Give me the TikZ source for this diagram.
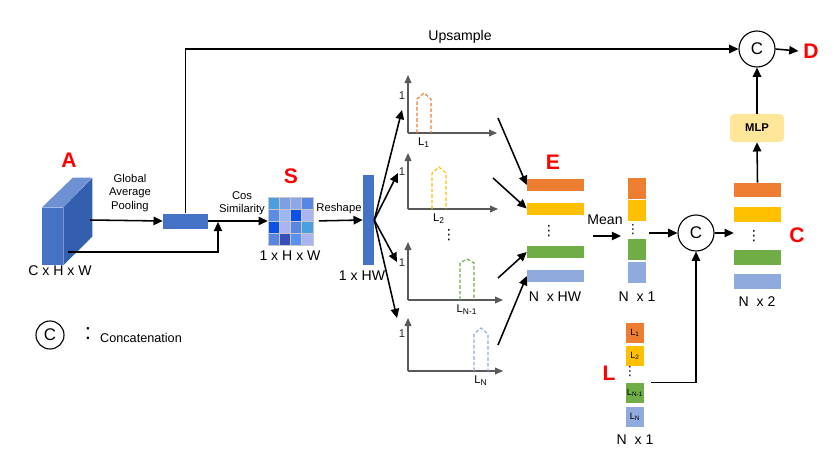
\documentclass[tikz,border=0pt]{standalone}
\usepackage{fontspec}
\setmainfont{Liberation Sans}
\newfontfamily\dotsfont{DejaVu Sans}
\definecolor{featblue}{HTML}{4472C4}
\definecolor{featdark}{HTML}{345EAE}
\definecolor{featlight}{HTML}{6E91D4}
\definecolor{binorange}{HTML}{ED7D31}
\definecolor{binyellow}{HTML}{FFC000}
\definecolor{bingreen}{HTML}{70AD47}
\definecolor{binblue}{HTML}{8FAADC}
\definecolor{mlpfill}{HTML}{FFE699}
\definecolor{axisgray}{HTML}{595959}
\definecolor{tagred}{HTML}{FF0000}
\definecolor{simA}{HTML}{4A9FE0}
\definecolor{simB}{HTML}{7F9FE2}
\definecolor{simC}{HTML}{8EA7E6}
\definecolor{simD}{HTML}{5886E0}
\definecolor{simE}{HTML}{5B8CE8}
\definecolor{simF}{HTML}{9DB8F0}
\definecolor{simG}{HTML}{0B50E8}
\definecolor{simH}{HTML}{A9B4F0}
\definecolor{simI}{HTML}{3A4CB8}
\definecolor{simJ}{HTML}{5A90F0}
\usetikzlibrary{arrows.meta,positioning}
\tikzset{
    flowarrow/.style={
        -{Triangle[length=2.3mm,width=2.1mm]},
        draw=black,
        line width=1.1pt
    },
    axisarrow/.style={
        -{Triangle[length=2mm,width=1.7mm]},
        draw=axisgray,
        line width=0.9pt
    },
    peakline/.style={
        dash pattern=on 2.5pt off 1.5pt,
        line width=0.8pt
    },
    tag/.style={
        text=tagred,
        font=\fontsize{15}{18}\selectfont\bfseries
    },
    dimtext/.style={
        font=\fontsize{10}{12}\selectfont
    },
    steptext/.style={
        font=\fontsize{8}{9.6}\selectfont,
        align=center
    },
    stackdots/.style={
        inner sep=0pt,
        font=\dotsfont\fontsize{10}{10}\selectfont
    },
    concat/.style={
        draw=black,
        circle,
        line width=0.8pt,
        minimum size=0.9cm,
        inner sep=0pt,
        font=\fontsize{12}{14}\selectfont
    },
    featbar/.style={
        minimum width=1.425cm,
        minimum height=0.3cm,
        inner sep=0pt
    },
    meancell/.style={
        minimum width=0.45cm,
        minimum height=0.525cm,
        inner sep=0pt
    },
    catbar/.style={
        minimum width=1.175cm,
        minimum height=0.36cm,
        inner sep=0pt
    },
    labelcell/.style={
        minimum width=0.45cm,
        minimum height=0.5cm,
        inner sep=0pt,
        font=\fontsize{6.5}{8}\selectfont
    }
}

\begin{document}
\begin{tikzpicture}[x=0.025cm,y=0.025cm]
        \path[fill=white] (0,0) rectangle (834,-461);
        \useasboundingbox (0,0) rectangle (834,-461);

        \node[fill=featblue,minimum width=0.525cm,minimum height=1.425cm,inner sep=0pt]
            (cubeA) at (52.5,-236.5) {};
        \fill[featlight] (cubeA.north west) -- ++(31,30) -- ++(19,0) -- (cubeA.north east) -- cycle;
        \fill[featdark] (cubeA.north east) -- ++(29,30) -- ++(0,-59) -- (cubeA.south east) -- cycle;
        \node[tag] (tagA) at (69,-160) {A};
        \node[dimtext] (dimA) at (60,-271) {C x H x W};
        \coordinate (cubeout) at (90,-220);
        \coordinate (cubelow) at (68,-252);

        \node[fill=featblue,minimum width=1.125cm,minimum height=0.375cm,inner sep=0pt]
            (gap) at (185.5,-221) {};
        \node[steptext] (gaptext) at (130,-193) {Global\\Average\\Pooling};
        \coordinate (merge) at (218,-222);

        \node[minimum width=1.125cm,minimum height=1.2cm,inner sep=0pt] (Sgrid) at (290.5,-221) {};
        \foreach \clr [count=\k from 0] in {simA,simB,simC,simD,simE,simF,simG,simH,
                                          simG,simH,simD,simA,simD,simI,simJ,simH}{
            \pgfmathtruncatemacro\cx{mod(\k,4)}
            \pgfmathtruncatemacro\cy{\k/4}
            \filldraw[fill=\clr,draw=gray!45,line width=0.5pt]
                ({268+\cx*11.25},{-197-\cy*12}) rectangle +(11.25,-12);
        }
        \node[tag] (tagS) at (291,-176) {S};
        \node[dimtext] (dimS) at (290,-256) {1 x H x W};
        \node[steptext] (costext) at (242,-203) {Cos\\Similarity};

        \node[fill=featblue,minimum width=0.275cm,minimum height=2.25cm,inner sep=0pt]
            (hw) at (368.5,-220) {};
        \node[steptext] (reshapetext) at (339,-209) {Reshape};
        \node[dimtext] (dimhw) at (362,-276) {1 x HW};

        \draw[flowarrow] (cubeout) -- (gap.west);
        \draw[flowarrow] (cubelow) -| (merge);
        \draw[flowarrow] (gap.east) -- (Sgrid.west);
        \draw[flowarrow,shorten <=4pt] (Sgrid.east) -- (hw.west);

        \foreach \n/\oy/\ty/\xe/\pl/\pr/\ps/\pa/\clr/\lab in {
            1/133/75/497/417/431/99/93/binorange/{L\textsubscript{1}},
            2/209/153/498/432/446/173/167/binyellow/{L\textsubscript{2}},
            3/300/242/503/460/474/263/259/bingreen/{L\textsubscript{N-1}},
            4/371/318/503/474/488/334/328/binblue/{L\textsubscript{N}}}{
            \draw[axisarrow] (408,-\oy) -- (408,-\ty);
            \draw[axisarrow] (408,-\oy) -- (\xe,-\oy);
            \draw[peakline,draw=\clr] (\pl,-\oy) -- (\pl,-\ps) --
                ({(\pl+\pr)/2},-\pa) -- (\pr,-\ps) -- (\pr,-\oy);
            \node[font=\fontsize{8}{9}\selectfont,text=black!85] (one\n) at (402,{-\oy+37}) {1};
            \node[font=\fontsize{8}{9}\selectfont] (bin\n) at ({(\pl+\pr)/2},{-\oy-10}) {\lab};
        }
        \node[stackdots] (histdots) at (449,-235) {⋮};

        \coordinate (in1) at (402,-110);
        \coordinate (in2) at (398,-173);
        \coordinate (in3) at (397,-262);
        \coordinate (in4) at (397,-318);
        \foreach \k in {1,...,4}
            \draw[flowarrow] (hw.east) -- (in\k);

        \node[featbar,fill=binorange] (Ebar1) at (555.5,-185) {};
        \node[featbar,fill=binyellow] (Ebar2) at (555.5,-208.5) {};
        \node[featbar,fill=bingreen] (Ebar3) at (555.5,-252) {};
        \node[featbar,fill=binblue] (Ebar4) at (555.5,-276) {};
        \node[stackdots] (Edots) at (549,-231) {⋮};
        \node[tag] (tagE) at (553,-162) {E};
        \node[dimtext] (dimE) at (555,-297) {N\ \ x HW};

        \coordinate (out1) at (498,-118);
        \coordinate (out2) at (493,-178);
        \coordinate (out3) at (498,-278);
        \coordinate (out4) at (498,-345);
        \foreach \k in {1,...,4}
            \draw[flowarrow] (out\k) -- (Ebar\k.west);

        \node[dimtext] (meantext) at (605,-220) {Mean};
        \coordinate (meanfrom) at (593,-236);
        \coordinate (meanto) at (621,-236);
        \draw[flowarrow] (meanfrom) -- (meanto);

        \node[meancell,fill=binorange] (Mbar1) at (637,-188) {};
        \node[meancell,fill=binyellow] (Mbar2) at (637,-210) {};
        \node[meancell,fill=bingreen] (Mbar3) at (637,-249) {};
        \node[meancell,fill=binblue] (Mbar4) at (637,-272.5) {};
        \node[stackdots,font=\dotsfont\fontsize{9}{9}\selectfont] (Mdots) at (633,-229.5) {⋮};
        \node[dimtext] (dimM) at (637,-297) {N\ \ x 1};

        \node[concat] (midC) at (696,-233) {C};
        \draw[flowarrow,shorten <=2pt] (Mbar2.east |- midC.west) -- (midC.west);

        \node[catbar,fill=binorange] (Cbar1) at (757.5,-190) {};
        \node[catbar,fill=binyellow] (Cbar2) at (757.5,-214.5) {};
        \node[catbar,fill=bingreen] (Cbar3) at (757.5,-257.5) {};
        \node[catbar,fill=binblue] (Cbar4) at (757.5,-281.5) {};
        \node[stackdots] (Cdots) at (754,-236) {⋮};
        \node[tag] (tagC) at (797,-235) {C};
        \node[dimtext] (dimC) at (757,-302) {N\ \ x 2};
        \draw[flowarrow] (midC.east) -- (midC.east -| Cbar2.west);

        \node[fill=mlpfill,rounded corners=3pt,minimum width=1.35cm,minimum height=0.7cm,
            inner sep=0pt,font=\fontsize{8}{9}\selectfont\bfseries] (mlp) at (757,-128) {MLP};
        \node[concat] (topC) at (757,-49) {C};
        \node[tag] (tagD) at (811,-51) {D};
        \draw[flowarrow] (Cbar1.north) -- (mlp.south);
        \draw[flowarrow] (mlp.north) -- (topC.south);
        \draw[flowarrow] (topC.east) -- (tagD.west);
        \draw[flowarrow] (gap.north) |- (topC.west);
        \node[dimtext] (upsampletext) at (460,-37) {Upsample};

        \node[labelcell,fill=binorange] (Lbar1) at (635,-333) {L\textsubscript{1}};
        \node[labelcell,fill=binyellow] (Lbar2) at (635,-356) {L\textsubscript{2}};
        \node[labelcell,fill=bingreen] (Lbar3) at (635,-393) {L\textsubscript{N-1}};
        \node[labelcell,fill=binblue] (Lbar4) at (635,-417) {L\textsubscript{N}};
        \node[stackdots,font=\dotsfont\fontsize{9}{9}\selectfont] (Ldots) at (630,-372) {⋮};
        \node[tag] (tagL) at (609,-373) {L};
        \node[dimtext] (dimL) at (635,-440) {N\ \ x 1};
        \draw[flowarrow,shorten <=5pt] (Lbar3.north east) -| (midC.south);

        \node[concat,minimum size=0.7cm] (legendC) at (50,-335) {C};
        \node[font=\fontsize{16}{18}\selectfont] (legendcolon) at (88,-334) {:};
        \node[font=\fontsize{9}{11}\selectfont] (legendtext) at (141,-338) {Concatenation};
    \end{tikzpicture}
\end{document}
